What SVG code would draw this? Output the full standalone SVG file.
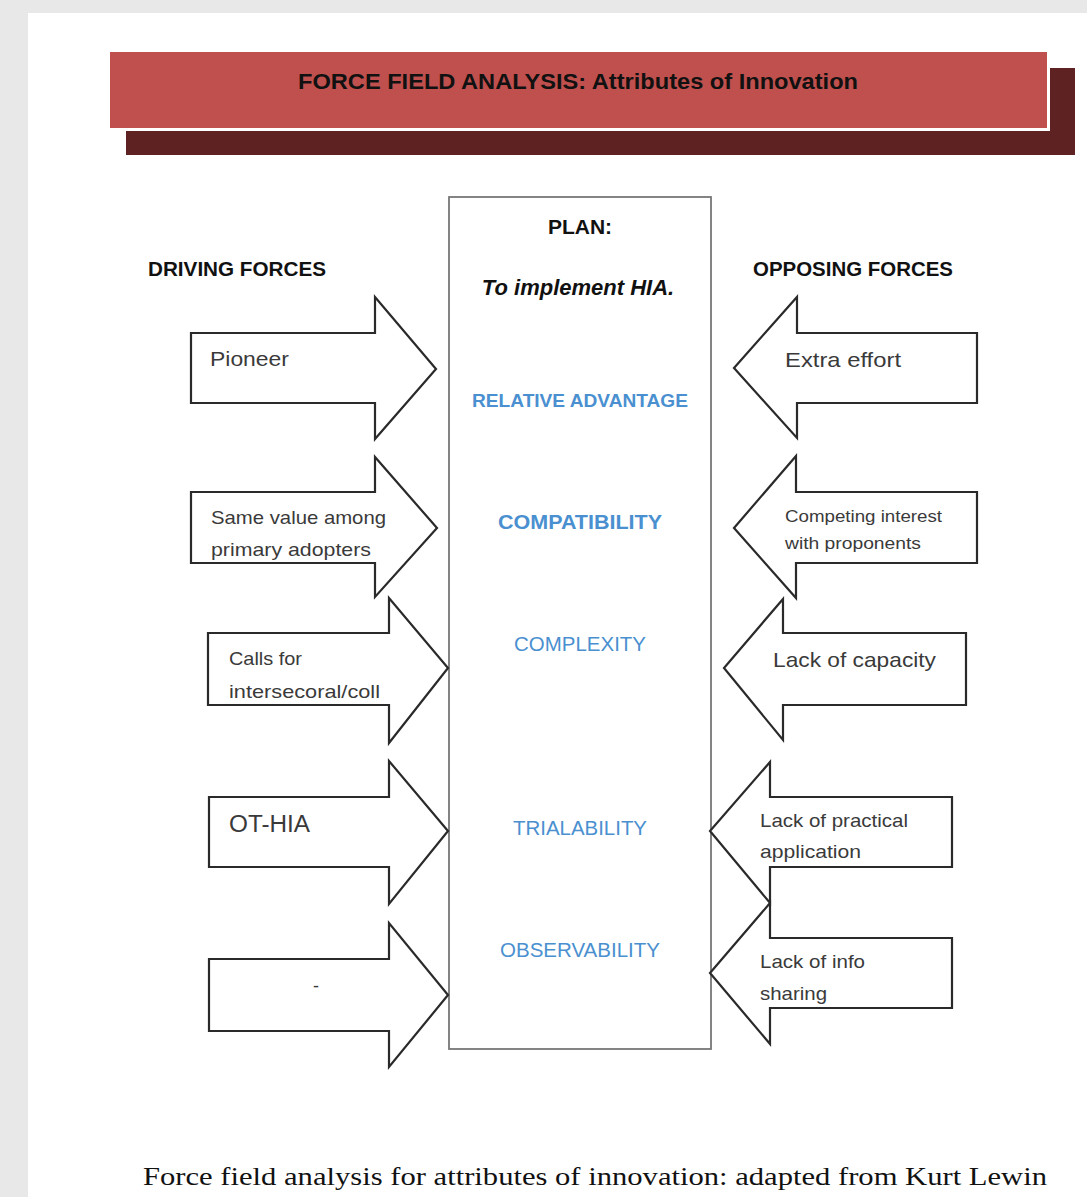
<svg xmlns="http://www.w3.org/2000/svg" width="1087" height="1197" viewBox="0 0 1087 1197">
<style>
.arr{fill:#fff;stroke:#2a2a2a;stroke-width:2.2;stroke-linejoin:miter}
.lbl{font-family:"Liberation Sans",Arial,sans-serif;fill:#3a3a3a}
.hdr{font-family:"Liberation Sans",Arial,sans-serif;font-weight:bold;fill:#111}
.attr{font-family:"Liberation Sans",Arial,sans-serif;text-anchor:middle;fill:#4a90d0}
</style>
<rect x="0" y="0" width="1087" height="1197" fill="#e8e8e8"/>
<rect x="28" y="13" width="1059" height="1184" fill="#ffffff"/>
<g id="title">
<rect x="126" y="68" width="949" height="87" fill="#5e2222"/>
<rect x="107" y="49" width="943" height="82" fill="#ffffff"/>
<rect x="110" y="52" width="937" height="76" fill="#c0504d"/>
<text x="578" y="89" text-anchor="middle" class="hdr" font-size="22" textLength="560" lengthAdjust="spacingAndGlyphs" fill="#1a0a0a">FORCE FIELD ANALYSIS: Attributes of Innovation</text>
</g>
<g id="plan">
<rect x="449" y="197" width="262" height="852" fill="#fff" stroke="#777" stroke-width="1.8"/>
<text x="580" y="234" text-anchor="middle" class="hdr" font-size="21">PLAN:</text>
<text x="578" y="295" text-anchor="middle" class="hdr" font-size="22" font-style="italic">To implement HIA.</text>
<text x="580" y="407" class="attr" font-size="18" font-weight="bold" textLength="216" lengthAdjust="spacingAndGlyphs">RELATIVE ADVANTAGE</text>
<text x="580" y="529" class="attr" font-size="20" font-weight="bold" fill="#2e74b5" textLength="164" lengthAdjust="spacingAndGlyphs">COMPATIBILITY</text>
<text x="580" y="651" class="attr" font-size="20" textLength="132" lengthAdjust="spacingAndGlyphs">COMPLEXITY</text>
<text x="580" y="835" class="attr" font-size="20" textLength="134" lengthAdjust="spacingAndGlyphs">TRIALABILITY</text>
<text x="580" y="957" class="attr" font-size="20" textLength="160" lengthAdjust="spacingAndGlyphs">OBSERVABILITY</text>
</g>
<text x="148" y="276" class="hdr" font-size="21" textLength="178" lengthAdjust="spacingAndGlyphs">DRIVING FORCES</text>
<text x="753" y="276" class="hdr" font-size="21" textLength="200" lengthAdjust="spacingAndGlyphs">OPPOSING FORCES</text>
<g id="connectors">
<g id="d1"><polygon class="arr" points="191,333 375,333 375,297 436,369 375,439 375,403 191,403"/>
<text x="210" y="366" class="lbl" font-size="21" textLength="79" lengthAdjust="spacingAndGlyphs">Pioneer</text></g>
<g id="d2"><polygon class="arr" points="191,492 375,492 375,457 437,528 375,597 375,563 191,563"/>
<text x="211" y="524" class="lbl" font-size="19" textLength="175" lengthAdjust="spacingAndGlyphs">Same value among</text>
<text x="211" y="556" class="lbl" font-size="19" textLength="160" lengthAdjust="spacingAndGlyphs">primary adopters</text></g>
<g id="d3"><polygon class="arr" points="208,633 389,633 389,598 448,668 389,743 389,705 208,705"/>
<text x="229" y="665" class="lbl" font-size="19" textLength="73" lengthAdjust="spacingAndGlyphs">Calls for</text>
<text x="229" y="698" class="lbl" font-size="19" textLength="151" lengthAdjust="spacingAndGlyphs">intersecoral/coll</text></g>
<g id="d4"><polygon class="arr" points="209,797 389,797 389,761 448,831 389,904 389,867 209,867"/>
<text x="229" y="832" class="lbl" font-size="23" textLength="81" lengthAdjust="spacingAndGlyphs">OT-HIA</text></g>
<g id="d5"><polygon class="arr" points="209,959 389,959 389,923 448,995 389,1067 389,1031 209,1031"/>
<text x="313" y="992" class="lbl" font-size="18">-</text></g>
<g id="o1"><polygon class="arr" points="977,333 797,333 797,297 734,368 797,438 797,403 977,403"/>
<text x="785" y="367" class="lbl" font-size="21" textLength="116" lengthAdjust="spacingAndGlyphs">Extra effort</text></g>
<g id="o2"><polygon class="arr" points="977,492 796,492 796,456 734,528 796,598 796,563 977,563"/>
<text x="785" y="522" class="lbl" font-size="16" textLength="157" lengthAdjust="spacingAndGlyphs">Competing interest</text>
<text x="785" y="549" class="lbl" font-size="16" textLength="136" lengthAdjust="spacingAndGlyphs">with proponents</text></g>
<g id="o3"><polygon class="arr" points="966,633 783,633 783,599 724,668 783,740 783,705 966,705"/>
<text x="773" y="667" class="lbl" font-size="21" textLength="163" lengthAdjust="spacingAndGlyphs">Lack of capacity</text></g>
<g id="o4"><polygon class="arr" points="952,797 770,797 770,762 710,831 770,903 770,867 952,867"/>
<text x="760" y="827" class="lbl" font-size="19" textLength="148" lengthAdjust="spacingAndGlyphs">Lack of practical</text>
<text x="760" y="858" class="lbl" font-size="19" textLength="101" lengthAdjust="spacingAndGlyphs">application</text></g>
<g id="o5"><polygon class="arr" points="952,938 770,938 770,903 710,973 770,1044 770,1008 952,1008"/>
<text x="760" y="968" class="lbl" font-size="19" textLength="105" lengthAdjust="spacingAndGlyphs">Lack of info</text>
<text x="760" y="1000" class="lbl" font-size="19" textLength="67" lengthAdjust="spacingAndGlyphs">sharing</text></g>
</g>
<text x="143" y="1185" font-family="Liberation Serif,'Times New Roman',serif" font-size="26" fill="#111" textLength="904" lengthAdjust="spacingAndGlyphs">Force field analysis for attributes of innovation: adapted from Kurt Lewin</text>
</svg>
